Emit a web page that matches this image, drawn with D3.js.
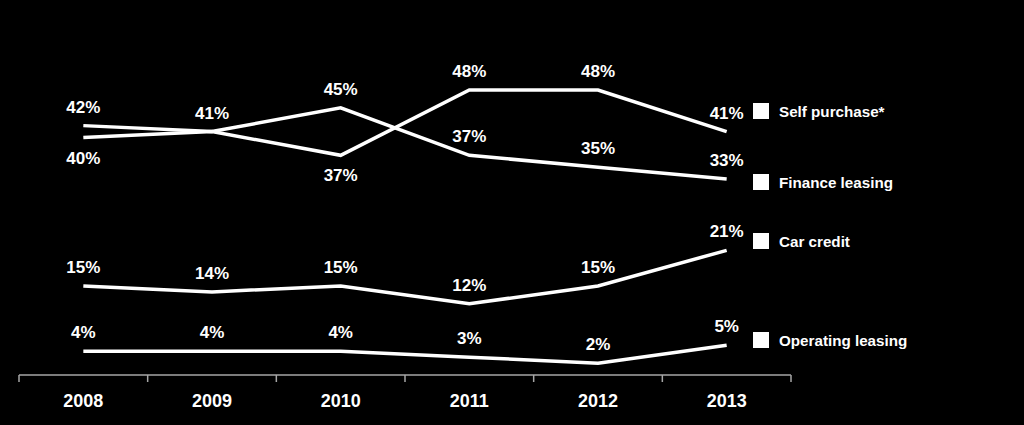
<!DOCTYPE html>
<html><head><meta charset="utf-8">
<script src="https://cdn.jsdelivr.net/npm/d3@7"></script>
<style>
html,body{margin:0;padding:0;background:#000;}
svg{display:block;}
text{font-family:Arial,"Liberation Sans",sans-serif;fill:#fff;}
</style></head>
<body>
<svg id="chart" width="1024" height="425"></svg>
<script>
const years = ["2008","2009","2010","2011","2012","2013"];
const selfPurchase = [40, 41, 37, 48, 48, 41];
const financeLeasing = [42, 41, 45, 37, 35, 33];
const carCredit = [15, 14, 15, 12, 15, 21];
const operatingLeasing = [4, 4, 4, 3, 2, 5];
const seriesNames = ["Self purchase*", "Finance leasing", "Car credit", "Operating leasing"];
// label placement: 1 = above, -1 = below, 0 = hidden
const selfLabelPos = [-1, 1, -1, 1, 1, 1];
const financeLabelPos = [1, 0, 1, 1, 1, 1];
const carLabelPos = [1, 1, 1, 1, 1, 1];
const opLabelPos = [1, 1, 1, 1, 1, 1];

const series = [
  {name: seriesNames[0], values: selfPurchase, pos: selfLabelPos},
  {name: seriesNames[1], values: financeLeasing, pos: financeLabelPos},
  {name: seriesNames[2], values: carCredit, pos: carLabelPos},
  {name: seriesNames[3], values: operatingLeasing, pos: opLabelPos}
];

const svg = d3.select("#chart");
const x = d3.scaleBand().domain(years).range([19, 791]);
const y = d3.scaleLinear().domain([0, 48]).range([375, 90]);
const cx = d => x(d) + x.bandwidth() / 2;

// axis
const axisG = svg.append("g").attr("transform", "translate(0,375)");
axisG.append("line").attr("x1", 19).attr("x2", 791).attr("stroke", "#a6a6a6").attr("stroke-width", 1.5);
const tickXs = years.map(d => x(d)).concat([x(years[years.length-1]) + x.bandwidth()]);
axisG.selectAll("line.tick").data(tickXs).enter().append("line")
  .attr("class", "tick").attr("x1", d => d).attr("x2", d => d)
  .attr("y1", 0).attr("y2", 7).attr("stroke", "#a6a6a6").attr("stroke-width", 1.5);
axisG.selectAll("text").data(years).enter().append("text")
  .attr("x", d => cx(d)).attr("y", 32)
  .attr("text-anchor", "middle").attr("font-size", 18).attr("font-weight", "bold")
  .text(d => d);

const line = d3.line().x((d, i) => cx(years[i])).y(d => y(d));

series.forEach(s => {
  svg.append("path").datum(s.values).attr("d", line)
    .attr("fill", "none").attr("stroke", "#fff").attr("stroke-width", 3.5)
    .attr("stroke-linejoin", "miter");
  svg.selectAll(null).data(s.values.map((v, i) => ({v, i, p: s.pos[i]})).filter(d => d.p !== 0))
    .enter().append("text")
    .attr("x", d => cx(years[d.i]))
    .attr("y", d => d.p > 0 ? y(d.v) - 13 : y(d.v) + 26)
    .attr("text-anchor", "middle").attr("font-size", 17).attr("font-weight", "bold")
    .text(d => d.v + "%");
});

// legend (vertical centres of the legend entries, in pixels)
const legendCentres = [111, 182, 241, 340];
const legend = svg.selectAll("g.legend").data(series).enter().append("g")
  .attr("class", "legend")
  .attr("transform", (d, i) => `translate(753,${legendCentres[i]})`);
legend.append("rect").attr("x", 0).attr("y", -8).attr("width", 16).attr("height", 16).attr("fill", "#fff");
legend.append("text").attr("x", 26).attr("y", 5.5).attr("font-size", 15.2).attr("font-weight", "bold").text(d => d.name);
</script>
</body></html>
